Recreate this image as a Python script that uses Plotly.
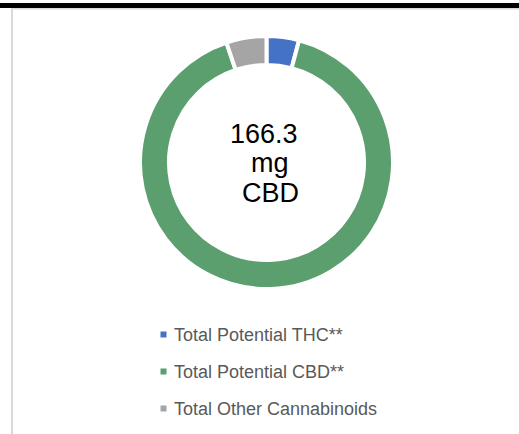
import plotly.graph_objects as go

# ---- data ----
categories = ["Total Potential THC**", "Total Potential CBD**", "Total Other Cannabinoids"]
values_mg = [7.6, 166.3, 9.4]
colors = ["#4472C4", "#5B9F6E", "#A5A5A5"]
center_lines = ["166.3", "mg", "CBD"]
legend_rows = [0, 1, 2]

W, H = 519, 434


def px_x(p):
    return p / W


def px_y(p):
    return 1 - p / H


fig = go.Figure()

fig.add_trace(go.Pie(
    labels=categories,
    values=values_mg,
    hole=0.771,
    sort=False,
    direction="clockwise",
    rotation=0,
    marker=dict(colors=colors, line=dict(color="white", width=4)),
    textinfo="none",
    hoverinfo="label+value",
    showlegend=False,
    domain=dict(x=[px_x(140), px_x(393)], y=[px_y(289), px_y(36)]),
))

# legend markers drawn as a scatter on hidden axes
fig.add_trace(go.Scatter(
    x=[0] * len(categories),
    y=legend_rows,
    mode="markers",
    marker=dict(symbol="square", size=6, color=colors),
    hoverinfo="skip",
    showlegend=False,
    cliponaxis=False,
))

annotations = []
for i, cat in zip(legend_rows, categories):
    annotations.append(dict(
        x=0, y=i, xref="x", yref="y", xshift=8,
        text=cat, showarrow=False, xanchor="left", yanchor="middle",
        font=dict(family="Liberation Sans, Arial", size=18, color="#595959"),
    ))

center_pos = [(264, 134), (270, 162.5), (270.5, 193)]
for txt, (cx, cy) in zip(center_lines, center_pos):
    annotations.append(dict(
        x=px_x(cx), y=px_y(cy), xref="paper", yref="paper",
        text=txt, showarrow=False, xanchor="center", yanchor="middle",
        font=dict(family="Liberation Sans, Arial", size=27, color="#000000"),
    ))

shapes = [
    dict(type="rect", xref="paper", yref="paper", x0=0, x1=1,
         y0=px_y(8), y1=px_y(3), fillcolor="#000000", line=dict(width=0), layer="above"),
    dict(type="rect", xref="paper", yref="paper", x0=px_x(11), x1=1,
         y0=px_y(9.5), y1=px_y(8), fillcolor="#D9D9D9", line=dict(width=0), layer="above"),
    dict(type="rect", xref="paper", yref="paper", x0=px_x(11), x1=px_x(13),
         y0=0, y1=px_y(8), fillcolor="#D9D9D9", line=dict(width=0), layer="above"),
]

fig.update_layout(
    width=W, height=H,
    margin=dict(l=0, r=0, t=0, b=0),
    paper_bgcolor="white",
    plot_bgcolor="rgba(0,0,0,0)",
    xaxis=dict(domain=[px_x(163.5), 0.95], range=[0, 1], visible=False, fixedrange=True),
    yaxis=dict(domain=[px_y(427), px_y(316)], range=[2.5, -0.5], visible=False, fixedrange=True),
    annotations=annotations,
    shapes=shapes,
    showlegend=False,
)

fig.write_html(
    "out.html",
    config={"displayModeBar": False},
    post_script="document.body.style.margin='0';document.body.style.overflow='hidden';",
)
